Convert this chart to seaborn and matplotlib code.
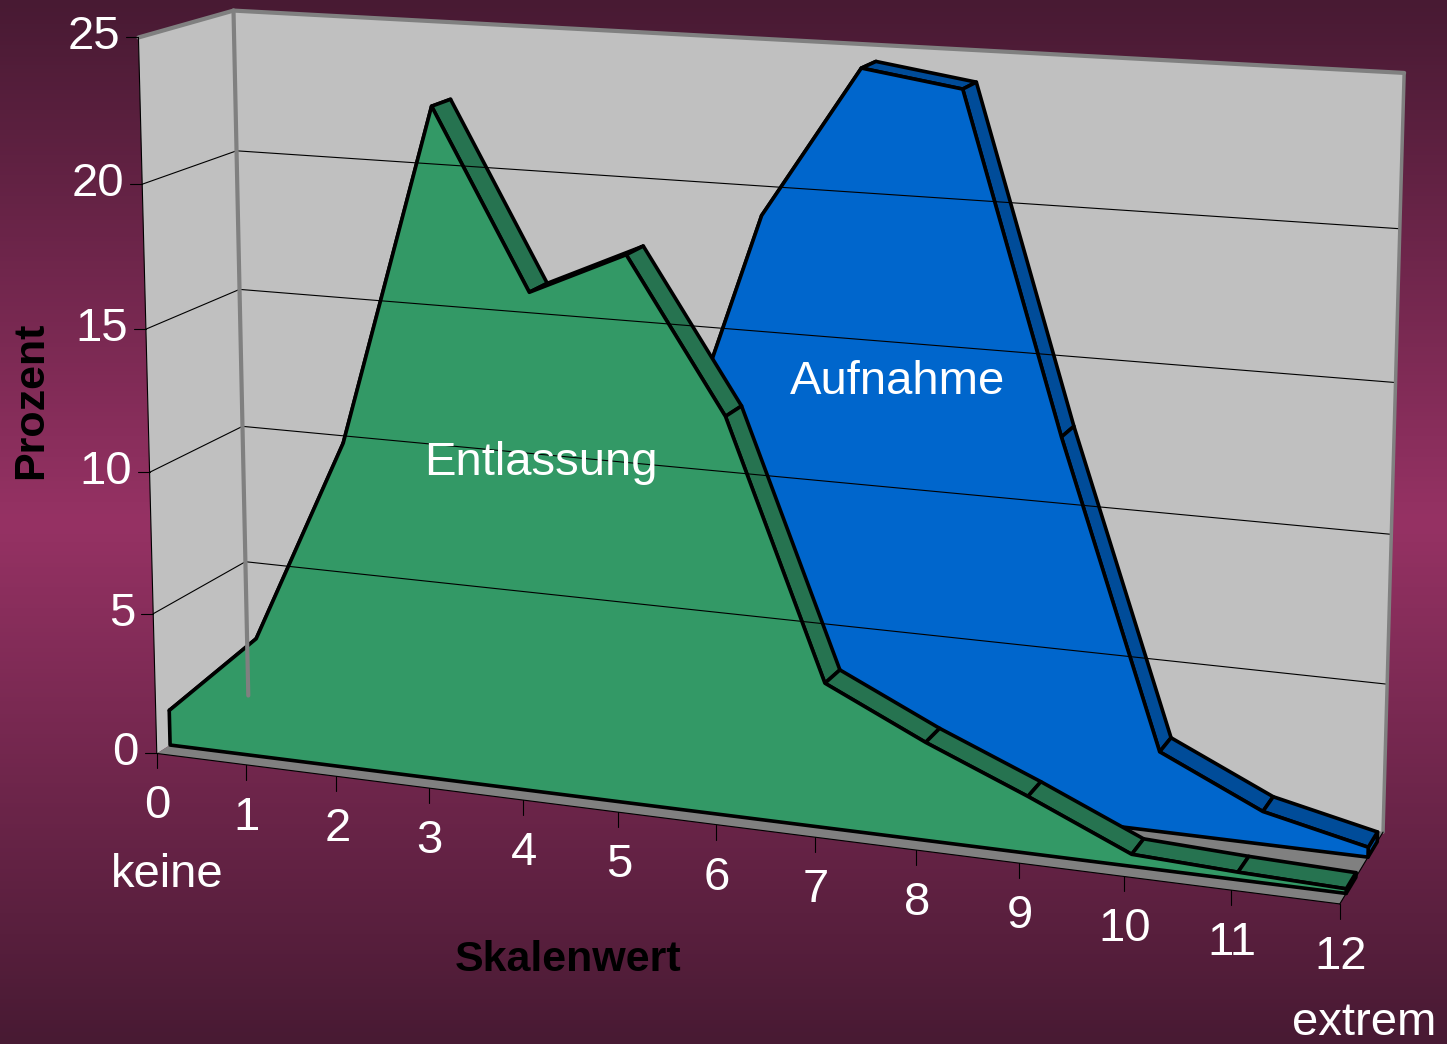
"""
Fake 3D area chart (Excel style) drawn on a flat seaborn/matplotlib axes.
"""

import numpy as np
import matplotlib

matplotlib.use("Agg")
import matplotlib.pyplot as plt
from matplotlib.colors import LinearSegmentedColormap
import seaborn as sns

W, H = 1447, 1044

categories = list(range(13))
entlassung = [1.25, 4.2, 11.4, 23.1, 17.1, 18.6, 13.5, 4.9, 3.3, 1.9, 0.4, 0.25, 0.15]
aufnahme = [0.3, 1.5, 3.0, 5.0, 7.0, 9.7, 19.5, 24.6, 24.1, 12.9, 2.7, 1.1, 0.33]
y_ticks = [0, 5, 10, 15, 20, 25]

GREEN, GREEN_DARK = "#339966", "#267350"
BLUE, BLUE_DARK = "#0066CC", "#004C99"
WALL, FLOOR = "#C0C0C0", "#808080"
NARROW = ["Liberation Sans Narrow", "Liberation Sans"]

# where the corners of the chart box land on screen, used to fit the projection
box_corners = [(0, 0, 0), (0, 25, 0), (12, 0, 0), (0, 0, 1), (0, 25, 1), (12, 25, 1), (12, 0, 1)]
box_pixels = [(158, 752), (137, 38), (1340, 905), (247, 697), (235, 10), (1404, 73), (1383, 831)]


def fit_projection(corners, pixels):
    A, b = [], []
    for (x, y, z), (u, v) in zip(corners, pixels):
        x, y = x / 12, y / 25
        A.append([x, y, z, 1, 0, 0, 0, 0, -u * x, -u * y, -u * z])
        A.append([0, 0, 0, 0, x, y, z, 1, -v * x, -v * y, -v * z])
        b += [u, v]
    p, *_ = np.linalg.lstsq(np.array(A, float), np.array(b, float), rcond=None)
    return np.append(p, 1).reshape(3, 4)


P = fit_projection(box_corners, box_pixels)


def project(x, y, z):
    q = P @ np.array([x / 12, y / 25, z, 1.0])
    return q[0] / q[2], q[1] / q[2]


def face(ax, points, color, edge=None, lw=2.6):
    xs, ys = zip(*[project(*p) for p in points])
    ax.fill(xs, ys, facecolor=color, edgecolor=edge or "none", lw=lw if edge else 0, joinstyle="round")


def line(ax, a, b, color="black", lw=0.8):
    xs, ys = zip(project(*a), project(*b))
    sns.lineplot(x=list(xs), y=list(ys), sort=False, estimator=None, color=color, lw=lw, ax=ax, legend=False)


def draw_area(ax, values, z_front, z_back, color, dark):
    n = len(values) - 1
    # end cap first, then top strips, front face last
    face(ax, [(n, 0, z_front), (n, values[n], z_front), (n, values[n], z_back), (n, 0, z_back)], dark, "black")
    for i in range(n):
        face(
            ax,
            [(i, values[i], z_front), (i + 1, values[i + 1], z_front),
             (i + 1, values[i + 1], z_back), (i, values[i], z_back)],
            dark,
            "black",
        )
    outline = [(i, v, z_front) for i, v in enumerate(values)]
    outline += [(n, 0, z_front), (0, 0, z_front)]
    face(ax, outline, color, "black")


def main():
    sns.set_theme(style="white")
    fig = plt.figure(figsize=(W / 100, H / 100), dpi=100)
    ax = fig.add_axes([0, 0, 1, 1])

    cmap = LinearSegmentedColormap.from_list("bg", ["#481A33", "#963264", "#481A33"])
    ax.imshow(np.linspace(0, 1, 256).reshape(-1, 1), cmap=cmap, extent=(0, W, H, 0), aspect="auto", zorder=0)

    # walls and floor
    face(ax, [(0, 0, 0), (0, 25, 0), (0, 25, 1), (0, 0, 1)], WALL)
    face(ax, [(0, 0, 1), (0, 25, 1), (12, 25, 1), (12, 0, 1)], WALL)
    face(ax, [(0, 0, 0), (12, 0, 0), (12, 0, 1), (0, 0, 1)], FLOOR)

    for t in y_ticks[1:-1]:
        line(ax, (0, t, 0), (0, t, 1))
        line(ax, (0, t, 1), (12, t, 1))
    line(ax, (0, 0, 1), (0, 25, 1), FLOOR, 3)
    line(ax, (0, 25, 0), (0, 25, 1), FLOOR, 3)
    line(ax, (0, 25, 1), (12, 25, 1), FLOOR, 3)
    line(ax, (12, 0, 1), (12, 25, 1), FLOOR, 2.5)

    draw_area(ax, aufnahme, 0.64, 0.86, BLUE, BLUE_DARK)
    draw_area(ax, entlassung, 0.14, 0.36, GREEN, GREEN_DARK)

    # front edges and ticks
    line(ax, (0, 0, 0), (0, 25, 0))
    line(ax, (0, 0, 0), (12, 0, 0))
    line(ax, (12, 0, 0), (12, 0, 1))
    for t in y_ticks:
        u, v = project(0, t, 0)
        ax.plot([u - 12, u], [v, v], color="black", lw=0.8)
        ax.text(u - 18, v, str(t), color="white", fontsize=34, ha="right", va="center", family=NARROW)
    for c in categories:
        u, v = project(c, 0, 0)
        ax.plot([u, u], [v, v + 15], color="black", lw=0.8)
        ax.text(u + 1, v + 53, str(c), color="white", fontsize=34, ha="center", va="center", family=NARROW)

    ax.text(167, 875, "keine", color="white", fontsize=34, ha="center", va="center", family="Liberation Sans")
    ax.text(1364, 1023, "extrem", color="white", fontsize=34, ha="center", va="center", family="Liberation Sans")
    ax.text(541, 463, "Entlassung", color="white", fontsize=34, ha="center", va="center", family="Liberation Sans")
    ax.text(898, 382, "Aufnahme", color="white", fontsize=34, ha="center", va="center", family="Liberation Sans")
    ax.text(568, 960, "Skalenwert", color="black", fontsize=31, fontweight="bold", ha="center", va="center", family=NARROW)
    ax.text(31, 400, "Prozent", color="black", fontsize=31, fontweight="bold", rotation=90, ha="center", va="center", family="Liberation Sans")

    ax.set_xlim(0, W)
    ax.set_ylim(H, 0)
    ax.axis("off")
    fig.savefig("out.png", dpi=100)
    plt.close()


if __name__ == "__main__":
    main()
